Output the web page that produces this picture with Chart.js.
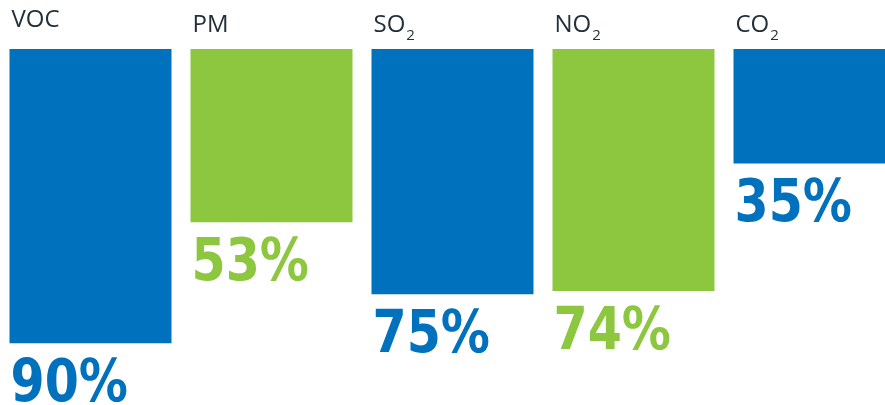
<!DOCTYPE html>
<html>
<head>
<meta charset="utf-8">
<script src="https://cdn.jsdelivr.net/npm/chart.js@4"></script>
<style>
  html, body { margin: 0; padding: 0; background: #fff; overflow: hidden; }
  #wrap { width: 905px; height: 405px; position: relative; }
</style>
</head>
<body>
<div id="wrap"><canvas id="chart"></canvas></div>
<script>
// Data
const gasNames = ["VOC", "PM", "SO", "NO", "CO"];
const gasSubscripts = ["", "", "2", "2", "2"];
const shareValues = [90, 53, 75, 74, 35];
const barColors = ["#0071bc", "#8dc63f", "#0071bc", "#8dc63f", "#0071bc"];

const TEXT_DARK = "#22303a";

// Draws the name above each bar and the big percentage under it
const labelPlugin = {
  id: "barLabels",
  afterDatasetsDraw(chart) {
    const ctx = chart.ctx;
    const bars = chart.getDatasetMeta(0).data;
    ctx.save();
    bars.forEach((bar, i) => {
      const left = bar.x - bar.width / 2;

      // category name (VOC sits a bit higher in the original)
      const baseY = i === 0 ? 27 : 32;
      ctx.fillStyle = TEXT_DARK;
      ctx.textAlign = "left";
      ctx.textBaseline = "alphabetic";
      ctx.font = "500 24px 'Open Sans'";
      ctx.fillText(gasNames[i], left + 2, baseY);
      if (gasSubscripts[i]) {
        const w = ctx.measureText(gasNames[i]).width;
        ctx.font = "500 15px 'Open Sans'";
        ctx.fillText(gasSubscripts[i], left + 2 + w + 1, baseY + 8);
      }

      // percentage value, squeezed a little to match the stencil type
      ctx.save();
      ctx.fillStyle = barColors[i];
      ctx.font = "bold 58px 'DejaVu Sans Condensed', 'Liberation Sans Narrow', 'DejaVu Sans'";
      ctx.translate(left + 1, bar.y + 58);
      ctx.scale(0.94, 1);
      ctx.fillText(shareValues[i] + "%", 0, 0);
      ctx.restore();
    });
    ctx.restore();
  }
};

new Chart(document.getElementById("chart"), {
  type: "bar",
  data: {
    labels: gasNames,
    datasets: [{
      data: shareValues,
      backgroundColor: barColors,
      borderWidth: 0,
      barPercentage: 0.895,
      categoryPercentage: 1.0
    }]
  },
  options: {
    responsive: true,
    maintainAspectRatio: false,
    animation: false,
    layout: { padding: { top: 49, bottom: 29, left: 0, right: 0 } },
    plugins: {
      legend: { display: false },
      tooltip: { enabled: false }
    },
    scales: {
      x: { display: false },
      y: { display: false, reverse: true, min: 0, max: 100 }
    }
  },
  plugins: [labelPlugin]
});
</script>
</body>
</html>
